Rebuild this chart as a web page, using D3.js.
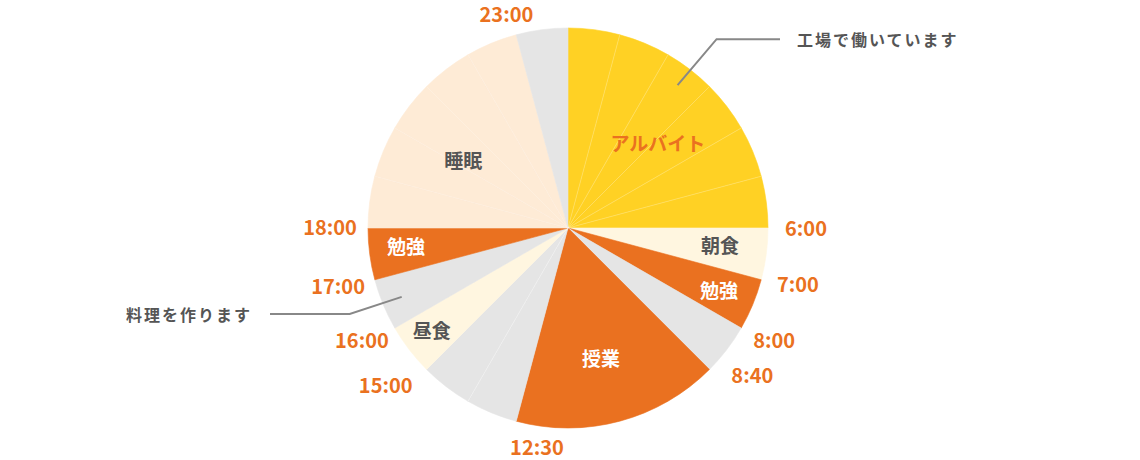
<!DOCTYPE html>
<html>
<head>
<meta charset="utf-8">
<script src="https://cdn.jsdelivr.net/npm/d3@7"></script>
<style>
  html, body { margin: 0; padding: 0; background: #ffffff; }
  svg { display: block; }
  text { font-family: "Noto Sans CJK JP", "Noto Sans", sans-serif; }
</style>
</head>
<body>
<svg id="chart" width="1140" height="460"></svg>
<script>
// ---- data ----
// segments of the day (hours), in order starting at 0:00
const segmentHours = [1, 1, 1, 1, 1, 1, 1, 1, 1, 4, 1, 1, 1, 1, 1, 1, 1, 1, 1, 1, 1];
const segmentCategory = [
  "アルバイト", "アルバイト", "アルバイト", "アルバイト", "アルバイト", "アルバイト",
  "朝食", "勉強", "その他", "授業",
  "その他", "その他", "昼食", "その他", "勉強",
  "睡眠", "睡眠", "睡眠", "睡眠", "睡眠", "その他"
];
const categories = ["アルバイト", "朝食", "勉強", "授業", "昼食", "睡眠", "その他"];
const tickLabels = ["6:00", "7:00", "8:00", "8:40", "12:30", "15:00", "16:00", "17:00", "18:00", "23:00"];
const tickHours = [6, 7, 8, 8 + 40 / 60, 12.5, 15, 16, 17, 18, 23];
const notes = ["工場で働いています", "料理を作ります"];
const noteHours = [2.5, 16.5];

// ---- styles / layout ----
const colors = {
  "アルバイト": "#FFD124", "朝食": "#FFF6E0", "勉強": "#EA7120", "授業": "#EA7120",
  "昼食": "#FFF6E0", "睡眠": "#FEEBD6", "その他": "#E5E5E5"
};
const labelColor = {
  "アルバイト": "#EA7120", "朝食": "#555555", "勉強": "#ffffff", "授業": "#ffffff",
  "昼食": "#555555", "睡眠": "#555555"
};
const sepOpacity = { "アルバイト": 0.3, "睡眠": 0.2, "その他": 0.45 };
const cx = 568, cy = 228, R = 200;

const svg = d3.select("#chart");
const g = svg.append("g").attr("transform", `translate(${cx},${cy})`);

const hourToAngle = d3.scaleLinear().domain([0, 24]).range([0, 2 * Math.PI]);
const segs = segmentHours.map((h, i) => ({ value: h, cat: segmentCategory[i] }));
const pie = d3.pie().sort(null).value(d => d.value).startAngle(0).endAngle(2 * Math.PI);
const arc = d3.arc().innerRadius(0).outerRadius(R);

g.selectAll("path.seg")
  .data(pie(segs))
  .join("path")
  .attr("class", "seg")
  .attr("d", arc)
  .attr("fill", d => colors[d.data.cat])
  .attr("stroke", d => colors[d.data.cat])
  .attr("stroke-width", 0.6);

// faint white separators inside same category
const bounds = [];
let acc = 0;
segmentHours.forEach((h, i) => {
  acc += h;
  if (i < segmentHours.length - 1 && segmentCategory[i + 1] === segmentCategory[i]) {
    bounds.push({ h: acc, cat: segmentCategory[i] });
  }
});
g.selectAll("line.sep")
  .data(bounds)
  .join("line")
  .attr("class", "sep")
  .attr("x1", 0).attr("y1", 0)
  .attr("x2", d => R * Math.sin(hourToAngle(d.h)))
  .attr("y2", d => -R * Math.cos(hourToAngle(d.h)))
  .attr("stroke", "#ffffff")
  .attr("stroke-opacity", d => sepOpacity[d.cat] || 0.3)
  .attr("stroke-width", 0.8);

// category labels (勉強 appears twice)
const catLabelRadius = { "アルバイト": 124, "朝食": 153, "勉強": 163, "授業": 134, "昼食": 170, "睡眠": 125 };
const catLabels = [
  { t: "アルバイト", h: 3.1 },
  { t: "朝食", h: 6.42 },
  { t: "勉強", h: 7.47 },
  { t: "授業", h: 11.05 },
  { t: "昼食", h: 15.55 },
  { t: "勉強", h: 17.6 },
  { t: "睡眠", h: 20.2 }
];
g.selectAll("text.cat")
  .data(catLabels)
  .join("text")
  .attr("class", "cat")
  .attr("x", d => catLabelRadius[d.t] * Math.sin(hourToAngle(d.h)))
  .attr("y", d => -catLabelRadius[d.t] * Math.cos(hourToAngle(d.h)))
  .attr("text-anchor", "middle")
  .attr("dominant-baseline", "central")
  .attr("font-size", 19)
  .attr("font-weight", 700)
  .attr("fill", d => labelColor[d.t])
  .text(d => d.t);

// time labels around
const tickR = 212, tw = 52, th = 20;
const tickNudgeX = { "15:00": -14, "8:40": 2 };
const tickNudgeY = { "8:40": 4, "7:00": -2, "18:00": -2, "6:00": -1, "12:30": -2 };
g.selectAll("text.tick")
  .data(tickLabels.map((t, i) => ({ t, h: tickHours[i] })))
  .join("text")
  .attr("class", "tick")
  .attr("x", d => {
    const a = hourToAngle(d.h);
    return (tickR + tw / 2) * Math.sin(a) + (tickNudgeX[d.t] || 0);
  })
  .attr("y", d => {
    const a = hourToAngle(d.h);
    return -(tickR + th / 2) * Math.cos(a) + (tickNudgeY[d.t] || 0);
  })
  .attr("text-anchor", "middle")
  .attr("dominant-baseline", "central")
  .attr("font-size", 20)
  .attr("font-weight", 700)
  .attr("fill", "#EA7120")
  .text(d => d.t);

// callouts
const noteR = 180;
const noteLayout = [
  { knee: [39, -46], endX: 780, textX: 797, anchor: "start" },
  { knee: [-52, 17], endX: 270, textX: 252, anchor: "end" }
];
notes.forEach((t, i) => {
  const a = hourToAngle(noteHours[i]);
  const sx = cx + noteR * Math.sin(a), sy = cy - noteR * Math.cos(a);
  const L = noteLayout[i];
  const kx = sx + L.knee[0], ky = sy + L.knee[1];
  svg.append("polyline")
    .attr("points", `${sx},${sy} ${kx},${ky} ${L.endX},${ky}`)
    .attr("fill", "none")
    .attr("stroke", "#888888")
    .attr("stroke-width", 2);
  svg.append("text")
    .attr("x", L.textX)
    .attr("y", ky)
    .attr("text-anchor", L.anchor)
    .attr("dominant-baseline", "central")
    .attr("font-size", 16)
    .attr("font-weight", 700)
    .attr("letter-spacing", 2)
    .attr("fill", "#555555")
    .text(t);
});
</script>
</body>
</html>
